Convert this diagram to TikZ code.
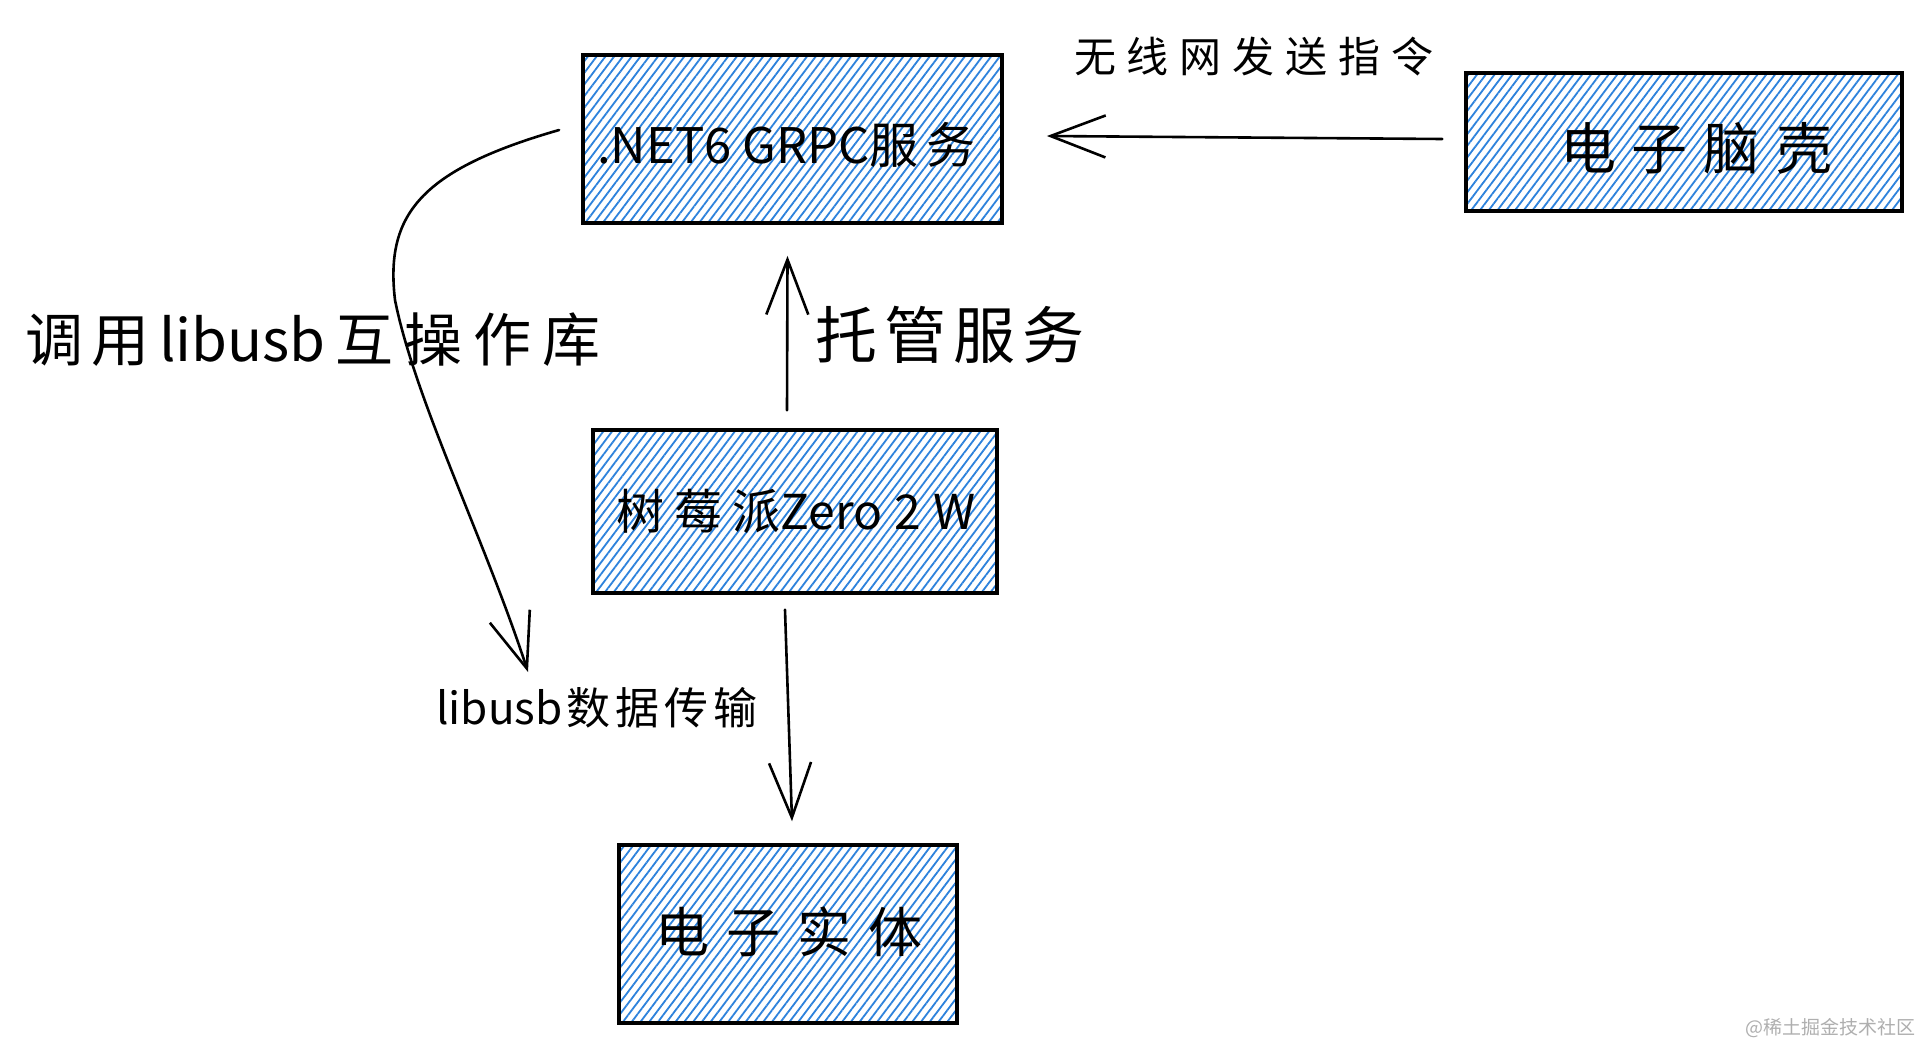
\documentclass[tikz,border=0pt]{standalone}
\usepackage{fontspec}
\setmainfont{Noto Sans CJK SC}
\usetikzlibrary{patterns.meta,arrows.meta}
\definecolor{hatch}{RGB}{45,130,220}
\definecolor{wm}{RGB}{175,175,175}
\tikzset{
  box/.style={draw=black, line width=3.5pt, rectangle, inner sep=0pt,
    pattern={Lines[angle=53,distance=7pt,line width=1.8pt]}, pattern color=hatch},
  arr/.style={draw=black, line width=2.6pt, line cap=round,
    -{Straight Barb[length=55pt,width=42pt,line width=2.6pt]}},
  lbl/.style={inner sep=0pt, anchor=center, text=black},
}
\newcommand{\fs}[1]{\fontsize{#1}{#1}\selectfont}
\begin{document}
\begin{tikzpicture}[x=1pt,y=-1pt]
\useasboundingbox (0,0) rectangle (1917,1046);
\fill[white] (0,0) rectangle (1917,1046);

% boxes
\node[box, minimum width=419pt, minimum height=168pt] (grpc) at (792.5,139) {};
\node[box, minimum width=436pt, minimum height=138pt] (brain) at (1684,142) {};
\node[box, minimum width=404pt, minimum height=163pt] (pi) at (795,511.5) {};
\node[box, minimum width=338pt, minimum height=178pt] (ent) at (788,934) {};

% box texts
\node[lbl, font=\fs{49}] (tgrpc) at ([shift={(-6,6)}]grpc.center) {.NET6 GRPC服\hspace{8pt}务};
\node[lbl, font=\fs{56}] (tbrain) at ([shift={(12,6)}]brain.center) {电\hspace{16pt}子\hspace{16pt}脑\hspace{16pt}壳};
\node[lbl, font=\fs{48}] (tpi) at ([shift={(1,0)}]pi.center) {树\hspace{10pt}莓\hspace{10pt}派Zero\hspace{12pt}2\hspace{12pt}W};
\node[lbl, font=\fs{54}] (tent) at ([shift={(1,-2)}]ent.center) {电\hspace{17pt}子\hspace{17pt}实\hspace{17pt}体};

% free labels
\node[lbl, font=\fs{42}] (twifi) at (1254,57) {无\hspace{11pt}线\hspace{11pt}网\hspace{11pt}发\hspace{11pt}送\hspace{11pt}指\hspace{11pt}令};
\node[lbl, font=\fs{62}] (thost) at (950,335) {托\hspace{7pt}管\hspace{7pt}服\hspace{7pt}务};
\node[lbl, font=\fs{58}] (tcall) at (313,340) {调\hspace{8pt}用\hspace{10pt}libusb\hspace{10pt}互\hspace{11pt}操\hspace{11pt}作\hspace{11pt}库};
\node[lbl, font=\fs{44}] (tusb) at (597,708) {libusb\hspace{4pt}数\hspace{5pt}据\hspace{5pt}传\hspace{5pt}输};
\node[lbl, font=\fs{19}, text=wm] (twm) at (1830,1028) {@稀土掘金技术社区};

% connectors
\draw[arr] ([shift={(-22,-3)}]brain.west) -- ([shift={(44,-3)}]grpc.east);
\draw[arr] ([shift={(-8,-18)}]pi.north) -- ([shift={(-5,32)}]grpc.south);
\draw[arr] ([shift={(-10,15)}]pi.south) -- ([shift={(4,-22)}]ent.north);
\coordinate (cend) at (528,672);
\draw[arr] ([shift={(-23,-9)}]grpc.west) .. controls (420,170) and (385,215) .. (395,300)
   .. controls (415,400) and (485,540) .. (cend);
\end{tikzpicture}
\end{document}
